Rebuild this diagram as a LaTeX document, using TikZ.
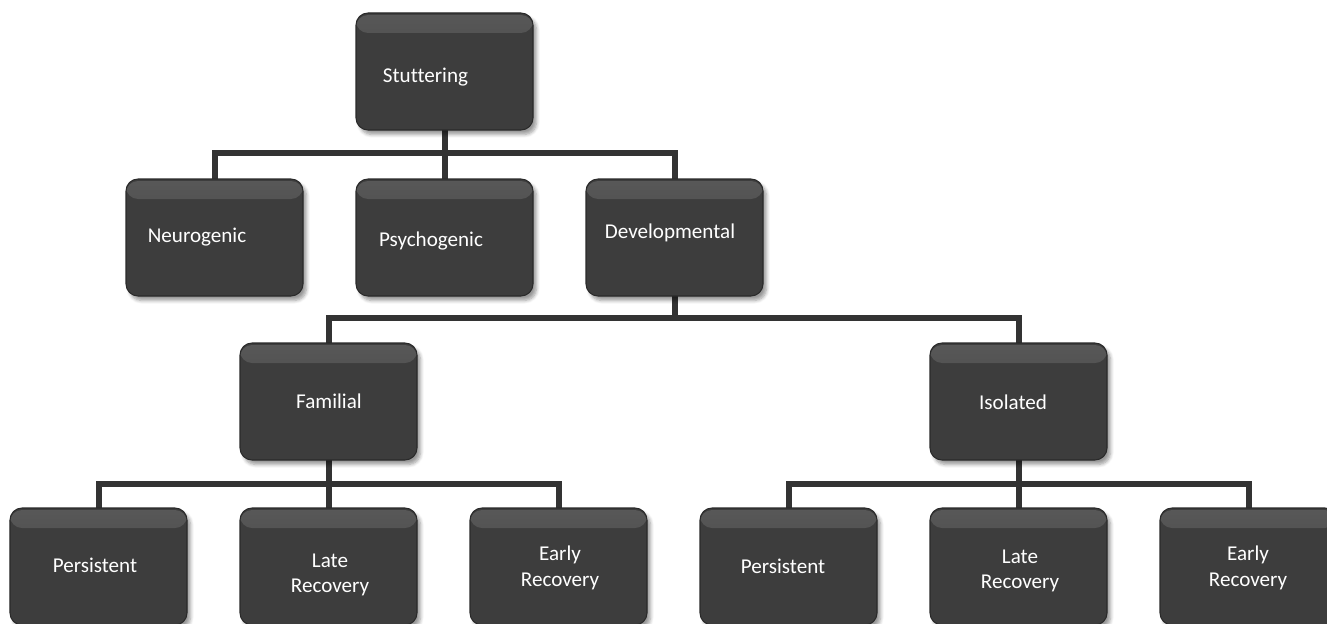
\documentclass[tikz,border=0pt]{standalone}
\usepackage{fontspec}
\setmainfont{Carlito}[Ligatures=NoCommon]
\usepackage{xcolor}
\usepackage{tikz}
\usetikzlibrary{positioning, calc, backgrounds, shadows.blur}
\definecolor{boxfill}{HTML}{3D3D3D}
\definecolor{boxedge}{HTML}{2A2A2A}
\definecolor{gloss}{HTML}{585858}
\definecolor{wire}{HTML}{333333}
\tikzset{
  box/.style={draw=boxedge, line width=0.6pt, fill=boxfill, rounded corners=2.4mm,
    minimum width=35.4mm, minimum height=23.4mm, inner sep=0pt, outer sep=0pt,
    blur shadow={shadow xshift=0.7mm, shadow yshift=-0.9mm, shadow blur steps=6, shadow opacity=40},
    path picture={\shade[top color=gloss, bottom color=boxfill]
      ([yshift=-0.4mm]path picture bounding box.north west) rectangle ([yshift=-4mm]path picture bounding box.north east);}},
  lbl/.style={text=white, font=\fontsize{12}{14.5}\selectfont, align=center, inner sep=0pt},
  conn/.style={draw=wire, line width=1.2mm}
}

\begin{document}
\begin{tikzpicture}[x=0.2mm, y=-0.2mm]
        \useasboundingbox (0,0) rectangle (1327,623);
        \clip (0,0) rectangle (1327,623);
        % Top level
        \node[box] (stut) at (444.5,71.5) {};
        % Second row
        \node[box] (neuro) at (214.5,237.5) {};
        \node[box] (psycho) at (444.5,237.5) {};
        \node[box] (devel) at (674.5,237.5) {};
        % Third row
        \node[box] (famil) at (328.5,401.5) {};
        \node[box] (isol) at (1018.5,401.5) {};
        % Bottom row
        \node[box] (fpers) at (98.5,566.5) {};
        \node[box] (flate) at (328.5,566.5) {};
        \node[box] (fearly) at (558.5,566.5) {};
        \node[box] (ipers) at (788.5,566.5) {};
        \node[box] (ilate) at (1018.5,566.5) {};
        \node[box] (iearly) at (1248.5,566.5) {};
        % Labels
        \node[lbl] (t-stut) at (425.5,77) {Stuttering};
        \node[lbl] (t-neuro) at (197,237) {Neurogenic};
        \node[lbl] (t-psycho) at (431,241) {Psychogenic};
        \node[lbl] (t-devel) at (670,233) {Developmental};
        \node[lbl] (t-famil) at (329,401) {Familial};
        \node[lbl] (t-isol) at (1013,402) {Isolated};
        \node[lbl] (t-fpers) at (95,565) {Persistent};
        \node[lbl] (t-flate) at (330,575) {Late\\Recovery};
        \node[lbl] (t-fearly) at (560,568) {Early\\Recovery};
        \node[lbl] (t-ipers) at (783,566) {Persistent};
        \node[lbl] (t-ilate) at (1020,571) {Late\\Recovery};
        \node[lbl] (t-iearly) at (1248,568) {Early\\Recovery};
        % Connectors
        \begin{scope}[on background layer]
          \draw[conn] (stut.south) -- ++(0,23) -| (neuro.north);
          \draw[conn] (stut.south) -- ++(0,23) -| (devel.north);
          \draw[conn] (stut.south) -- (psycho.north);
          \draw[conn] (devel.south) -- ++(0,22) -| (famil.north);
          \draw[conn] (devel.south) -- ++(0,22) -| (isol.north);
          \draw[conn] (famil.south) -- ++(0,24) -| (fpers.north);
          \draw[conn] (famil.south) -- ++(0,24) -| (fearly.north);
          \draw[conn] (famil.south) -- (flate.north);
          \draw[conn] (isol.south) -- ++(0,24) -| (ipers.north);
          \draw[conn] (isol.south) -- ++(0,24) -| (iearly.north);
          \draw[conn] (isol.south) -- (ilate.north);
        \end{scope}
      \end{tikzpicture}
\end{document}
